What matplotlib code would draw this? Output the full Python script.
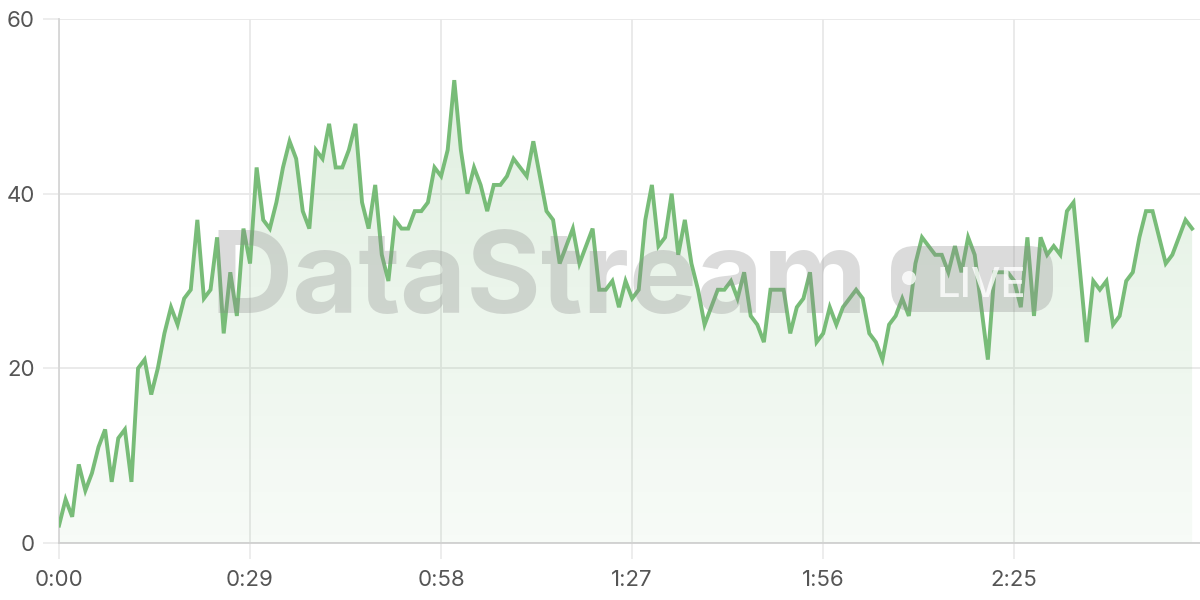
import numpy as np
import matplotlib
matplotlib.use("Agg")
import matplotlib.pyplot as plt
from matplotlib.patches import FancyBboxPatch, Circle
from matplotlib.colors import LinearSegmentedColormap

# viewers per second of stream
seconds = np.arange(173)
viewers = [
    2, 5, 3, 9, 6, 8, 11, 13, 7, 12, 13, 7, 20, 21, 17, 20, 24, 27, 25, 28,
    29, 37, 28, 29, 35, 24, 31, 26, 36, 32,
    43, 37, 36, 39, 43, 46, 44, 38, 36, 45, 44, 48, 43, 43, 45, 48, 39, 36,
    41, 33, 30, 37, 36, 36, 38, 38, 39, 43, 42, 45,
    53, 45, 40, 43, 41, 38, 41, 41, 42, 44, 43, 42, 46, 42, 38, 37, 32, 34,
    36, 32, 34, 36, 29, 29, 30, 27, 30, 28, 29,
    37, 41, 34, 35, 40, 33, 37, 32, 29, 25, 27, 29, 29, 30, 28, 31, 26, 25,
    23, 29, 29, 29, 24, 27, 28, 31, 23, 24,
    27, 25, 27, 28, 29, 28, 24, 23, 21, 25, 26, 28, 26, 32, 35, 34, 33, 33,
    31, 34, 31, 35, 33, 27, 21, 31, 31, 31, 30,
    27, 35, 26, 35, 33, 34, 33, 38, 39, 31, 23, 30, 29, 30, 25, 26, 30, 31,
    35, 38, 38, 35, 32, 33, 35, 37, 36,
]
x_ticks = [0, 29, 58, 87, 116, 145]
x_labels = ["0:00", "0:29", "0:58", "1:27", "1:56", "2:25"]
y_ticks = [0, 20, 40, 60]

GREEN = "#78bc78"
GRID = "#e8e8e8"
W, H = 1200, 600

plt.rcParams["font.family"] = ["Inter", "DejaVu Sans"]

fig = plt.figure(figsize=(12, 6), dpi=100)
ax = fig.add_axes([59 / W, 57 / H, 1 - 59 / W, (543 - 19) / H])
ax.set_xlim(0, 173.2)
ax.set_ylim(0, 60)

# gradient fill under the line
cmap = LinearSegmentedColormap.from_list(
    "fade", [(0.48, 0.74, 0.48, 0.06), (0.48, 0.74, 0.48, 0.25)]
)
grad = np.linspace(0, 1, 256).reshape(-1, 1)
img = ax.imshow(grad, cmap=cmap, origin="lower", aspect="auto",
                extent=[0, seconds[-1], 0, 60], zorder=1)
poly = ax.fill_between(seconds, viewers, 0, color="none", lw=0)
clip = poly.get_paths()[0]
img.set_clip_path(clip, transform=ax.transData)

ax.plot(seconds, viewers, color=GREEN, lw=2.8, zorder=4,
        solid_joinstyle="miter")

ax.set_xticks(x_ticks, x_labels)
ax.set_yticks(y_ticks)
ax.grid(True, color=GRID, lw=1.3)
ax.set_axisbelow(True)
for side in ["top", "right"]:
    ax.spines[side].set_visible(False)
ax.spines["left"].set_color("#d6d6d6")
ax.spines["bottom"].set_color("#d0d0d0")
ax.spines["left"].set_linewidth(1.3)
ax.spines["bottom"].set_linewidth(1.3)
ax.tick_params(axis="both", length=11.5, width=1.1, color=GRID,
               labelsize=16, labelcolor="#555555")
ax.tick_params(axis="x", pad=8)
ax.tick_params(axis="y", pad=6)

# watermark (positions in inches from bottom-left, 100 px per inch)
inch = fig.dpi_scale_trans
fig.text(2.10, 6 - 3.13, "DataStream", transform=inch, fontsize=82,
         fontweight="bold", color="#8a8a8a", alpha=0.3, ha="left",
         va="baseline", zorder=3)
badge = FancyBboxPatch((8.91, 6 - 3.12), 1.62, 0.66,
                       boxstyle="round,pad=0,rounding_size=0.24",
                       transform=inch, facecolor="#8a8a8a",
                       alpha=0.3, lw=0, zorder=3)
fig.patches.append(badge)
dot = Circle((9.09, 6 - 2.78), 0.07, transform=inch,
             facecolor="white", alpha=0.8, lw=0, zorder=3)
fig.patches.append(dot)
fig.text(9.37, 6 - 2.97, "LIVE", transform=inch, fontsize=30,
         fontweight="medium", color="white", alpha=0.8, ha="left",
         va="baseline", zorder=3)

fig.savefig("out.png", dpi=100)
